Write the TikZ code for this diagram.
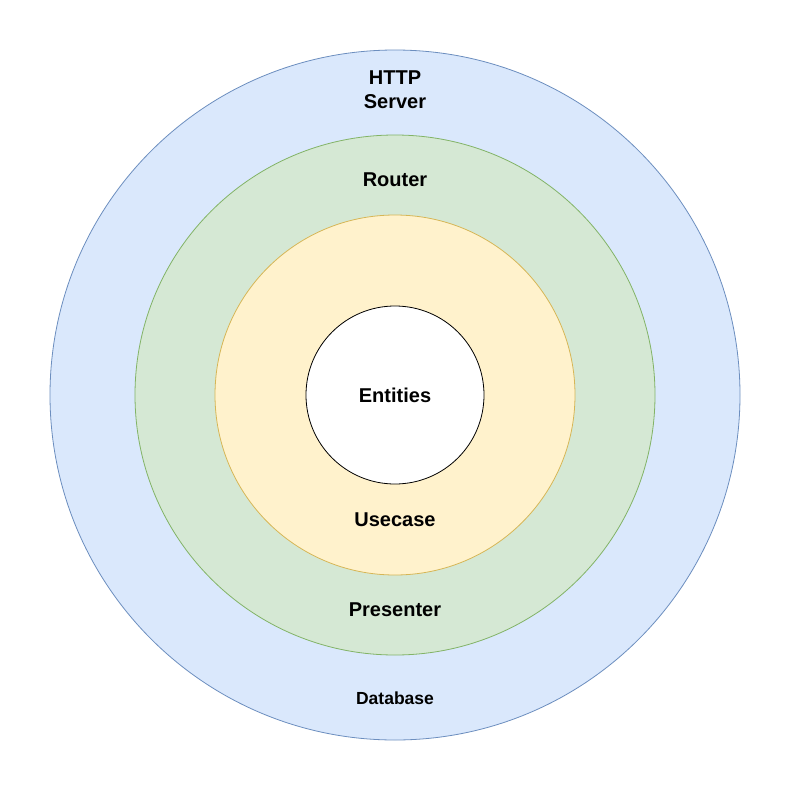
\documentclass[tikz,border=0pt]{standalone}
\usepackage{fontspec}
\setmainfont{Liberation Sans}
\definecolor{httpfill}{HTML}{DAE8FC}
\definecolor{httpline}{HTML}{6C8EBF}
\definecolor{routerfill}{HTML}{D5E8D4}
\definecolor{routerline}{HTML}{82B366}
\definecolor{usecasefill}{HTML}{FFF2CC}
\definecolor{usecaseline}{HTML}{D6B656}
\begin{document}
\begin{tikzpicture}[x=1pt, y=-1pt, line width=0.8pt,
  ring/.style={circle,draw,inner sep=0pt},
  layer name/.style={font=\bfseries\fontsize{20}{24}\selectfont, anchor=base, align=center, inner sep=0pt}]
\useasboundingbox[fill=white] (0,0) rectangle (790,790);
\begin{scope}
\node[ring, fill=httpfill, draw=httpline, minimum size=690pt] (http) at (395,395) {};
\node[ring, fill=routerfill, draw=routerline, minimum size=520pt] (router) at (395,395) {};
\node[ring, fill=usecasefill, draw=usecaseline, minimum size=360pt] (usecase) at (395,395) {};
\node[ring, fill=white, draw=black, minimum size=178pt] (entities) at (395,395) {};
\end{scope}
\begin{scope}[every node/.style={layer name}]
\node (t1) at (395,108) {HTTP\\Server};
\node (t2) at (395,186) {Router};
\node (t3) at (395,402) {Entities};
\node (t4) at (395,526) {Usecase};
\node (t5) at (395,616) {Presenter};
\node[font=\bfseries\fontsize{17.5}{21}\selectfont] (t6) at (395,704) {Database};
\end{scope}
\end{tikzpicture}
\end{document}
